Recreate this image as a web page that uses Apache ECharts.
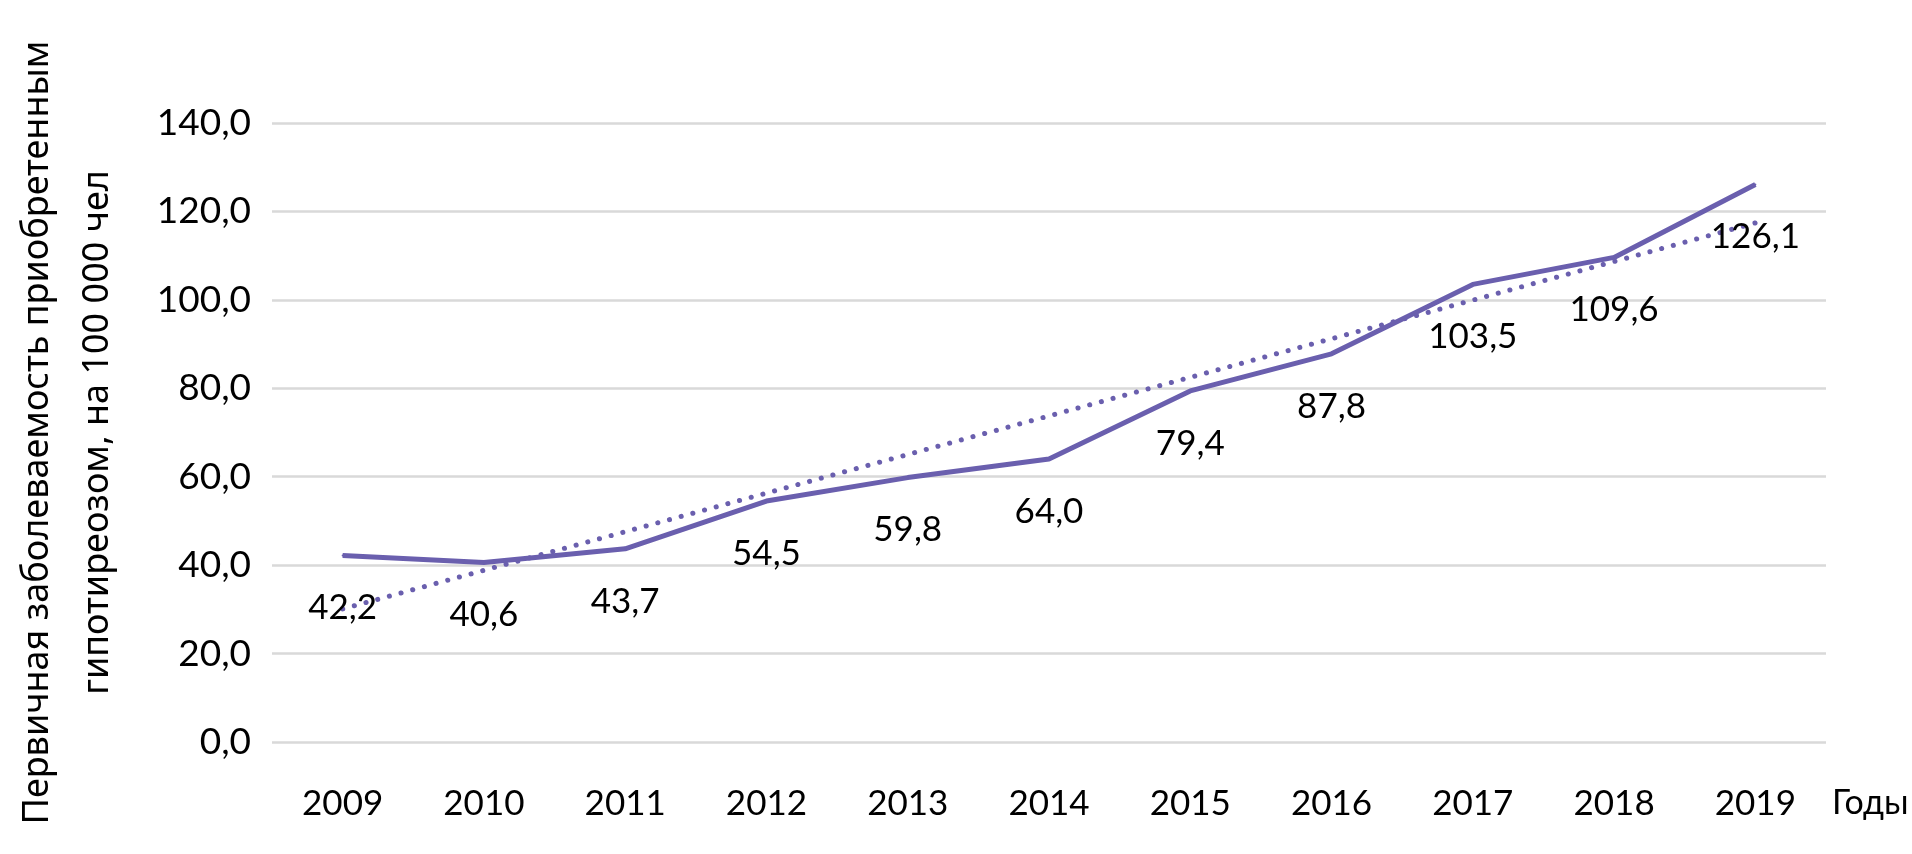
<!DOCTYPE html>
<html><head><meta charset="utf-8">
<script src="https://cdn.jsdelivr.net/npm/echarts@6/dist/echarts.min.js"></script>
<style>html,body{margin:0;padding:0;background:#fff}#c{width:1912px;height:854px}</style>
</head><body><div id="c"></div>
<script>
const years = ['2009','2010','2011','2012','2013','2014','2015','2016','2017','2018','2019'];
const incidence = [42.2, 40.6, 43.7, 54.5, 59.8, 64.0, 79.4, 87.8, 103.5, 109.6, 126.1];
const trendEnds = [['2009', 30.1], ['2019', 117.4]];
const yTicks = [0, 20, 40, 60, 80, 100, 120, 140];
const yTitle = 'Первичная заболеваемость приобретенным\nгипотиреозом, на 100 000 чел';
const xTitle = 'Годы';

const fmt = v => Number(v).toFixed(1).replace('.', ',');
const purple = '#6a5fae';
const font = 'Lato, "Noto Sans", sans-serif';

const chart = echarts.init(document.getElementById('c'));
chart.setOption({
  animation: false,
  grid: {left: 272, right: 86, top: 123, bottom: 112, containLabel: false, outerBoundsMode: 'none'},
  xAxis: {
    type: 'category', data: years, boundaryGap: true,
    name: xTitle, nameLocation: 'end', nameGap: 6,
    nameTextStyle: {fontSize: 34, color: '#000', fontFamily: font, verticalAlign: 'top', padding: [44, 0, 0, 0]},
    axisLine: {show: false}, axisTick: {show: false},
    axisLabel: {fontSize: 35, color: '#000', fontFamily: font, margin: 44}
  },
  yAxis: {
    type: 'value', min: yTicks[0], max: yTicks[yTicks.length - 1], interval: 20,
    name: yTitle, nameLocation: 'middle', nameGap: 144, nameRotate: 90,
    nameTextStyle: {fontSize: 36, color: '#000', fontFamily: '"Liberation Sans Narrow", "Noto Sans", sans-serif', lineHeight: 60},
    axisLine: {show: false}, axisTick: {show: false},
    axisLabel: {fontSize: 37, color: '#000', fontFamily: font, margin: 21, formatter: fmt},
    splitLine: {lineStyle: {color: '#d9d9d9', width: 2.5}}
  },
  series: [
    {
      type: 'line', data: incidence, symbol: 'circle', symbolSize: 2, showSymbol: true,
      itemStyle: {color: purple},
      lineStyle: {color: purple, width: 5},
      label: {show: true, position: 'bottom', distance: 34, fontSize: 35, color: '#000', fontFamily: font,
        formatter: p => fmt(p.value)},
      labelLayout: {hideOverlap: false},
      z: 3
    },
    {
      type: 'line', data: trendEnds, symbol: 'none',
      lineStyle: {color: purple, width: 5, type: [0.1, 12], cap: 'round'},
      z: 2
    }
  ]
});
</script></body></html>
